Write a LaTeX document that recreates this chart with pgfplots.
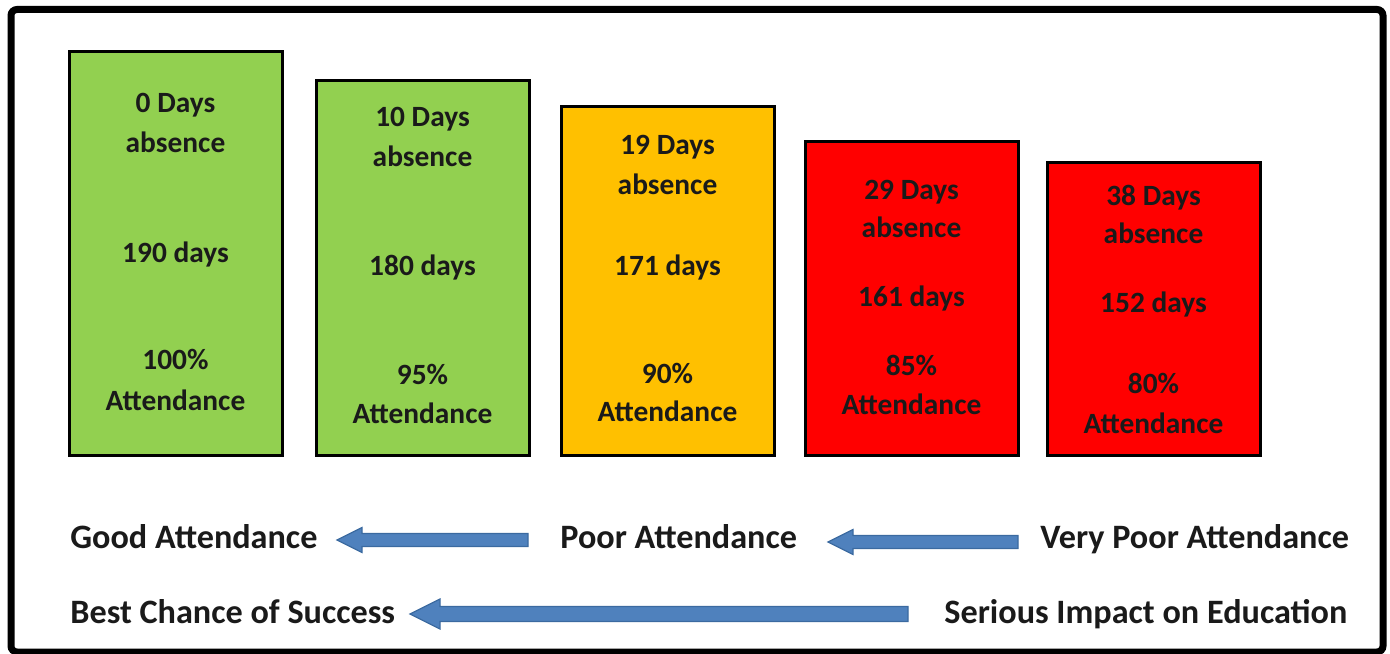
\documentclass[border=0pt]{standalone}
\usepackage{fontspec}
\setmainfont{Carlito}
\usepackage{pgfplots}
\pgfplotsset{compat=1.18}
\definecolor{cgreen}{HTML}{92D050}
\definecolor{corange}{HTML}{FFC000}
\definecolor{cred}{HTML}{FF0000}
\definecolor{cblue}{HTML}{4F81BD}
\definecolor{cblueedge}{HTML}{3B6AA0}
\definecolor{ctext}{HTML}{1A1A1A}
\tikzset{
  boxt/.style={font=\bfseries\fontsize{14.7}{17}\selectfont, text=ctext, anchor=center, inner sep=0pt, text height=0.7em, text depth=0.2em, yshift=-2.5pt},
  lowt/.style={font=\bfseries\fontsize{17.1}{20}\selectfont, text=ctext, anchor=west, inner sep=0pt, text height=0.7em, text depth=0.2em, yshift=-2.5pt},
}
\begin{document}
\begin{tikzpicture}
\begin{axis}[
  scale only axis, width=695pt, height=326.5pt,
  xmin=0, xmax=1390, ymin=-197, ymax=456,
  hide axis, clip=false,
  ybar, bar width=213,
]
% bars: x = centre (px), y = bar height (px above baseline)
\addplot[fill=cgreen, draw=black, line width=1.5pt, bar shift=0pt] coordinates {(175.5,404) (422.5,375)};
\addplot[fill=corange, draw=black, line width=1.5pt, bar shift=0pt] coordinates {(667.5,349)};
\addplot[fill=cred, draw=black, line width=1.5pt, bar shift=0pt] coordinates {(911.5,314.5) (1153.5,293.5)};

\coordinate (BL) at (axis cs:0,-197);
\coordinate (TR) at (axis cs:1390,456);

% bar texts
\node[boxt] at (axis cs:175.5,353) {0 Days};
\node[boxt] at (axis cs:175.5,313) {absence};
\node[boxt] at (axis cs:175.5,203) {190 days};
\node[boxt] at (axis cs:175.5,96) {100\%};
\node[boxt] at (axis cs:175.5,55) {Attendance};

\node[boxt] at (axis cs:422.5,339) {10 Days};
\node[boxt] at (axis cs:422.5,299) {absence};
\node[boxt] at (axis cs:422.5,190) {180 days};
\node[boxt] at (axis cs:422.5,81) {95\%};
\node[boxt] at (axis cs:422.5,42) {Attendance};

\node[boxt] at (axis cs:667.5,311) {19 Days};
\node[boxt] at (axis cs:667.5,271) {absence};
\node[boxt] at (axis cs:667.5,190) {171 days};
\node[boxt] at (axis cs:667.5,82) {90\%};
\node[boxt] at (axis cs:667.5,44) {Attendance};

\node[boxt] at (axis cs:911.5,266) {29 Days};
\node[boxt] at (axis cs:911.5,228) {absence};
\node[boxt] at (axis cs:911.5,159) {161 days};
\node[boxt] at (axis cs:911.5,90) {85\%};
\node[boxt] at (axis cs:911.5,51) {Attendance};

\node[boxt] at (axis cs:1153.5,260) {38 Days};
\node[boxt] at (axis cs:1153.5,222) {absence};
\node[boxt] at (axis cs:1153.5,153) {152 days};
\node[boxt] at (axis cs:1153.5,72) {80\%};
\node[boxt] at (axis cs:1153.5,32) {Attendance};

% lower texts
\node[lowt] at (axis cs:70,-82) {Good Attendance};
\node[lowt] at (axis cs:560,-82) {Poor Attendance};
\node[lowt] at (axis cs:1040,-82) {Very Poor Attendance};
\node[lowt] at (axis cs:70,-157) {Best Chance of Success};
\node[lowt] at (axis cs:944,-157) {Serious Impact on Education};

% arrows
\filldraw[fill=cblue, draw=cblueedge, line width=0.6pt]
  (axis cs:337,-84) -- (axis cs:362,-71.5) -- (axis cs:362,-77.5) -- (axis cs:528,-77.5)
  -- (axis cs:528,-90.5) -- (axis cs:362,-90.5) -- (axis cs:362,-96.5) -- cycle;
\filldraw[fill=cblue, draw=cblueedge, line width=0.6pt]
  (axis cs:828,-86) -- (axis cs:853,-73.5) -- (axis cs:853,-79.5) -- (axis cs:1018,-79.5)
  -- (axis cs:1018,-92.5) -- (axis cs:853,-92.5) -- (axis cs:853,-98.5) -- cycle;
\filldraw[fill=cblue, draw=cblueedge, line width=0.6pt]
  (axis cs:410,-158) -- (axis cs:440,-143) -- (axis cs:440,-150.5) -- (axis cs:908,-150.5)
  -- (axis cs:908,-165.5) -- (axis cs:440,-165.5) -- (axis cs:440,-173) -- cycle;

% frame
\draw[line width=3.5pt, rounded corners=3pt] (axis cs:11,446.5) rectangle (axis cs:1383,-196);
\end{axis}
\pgfresetboundingbox
\useasboundingbox (BL) rectangle (TR);
\end{tikzpicture}
\end{document}
